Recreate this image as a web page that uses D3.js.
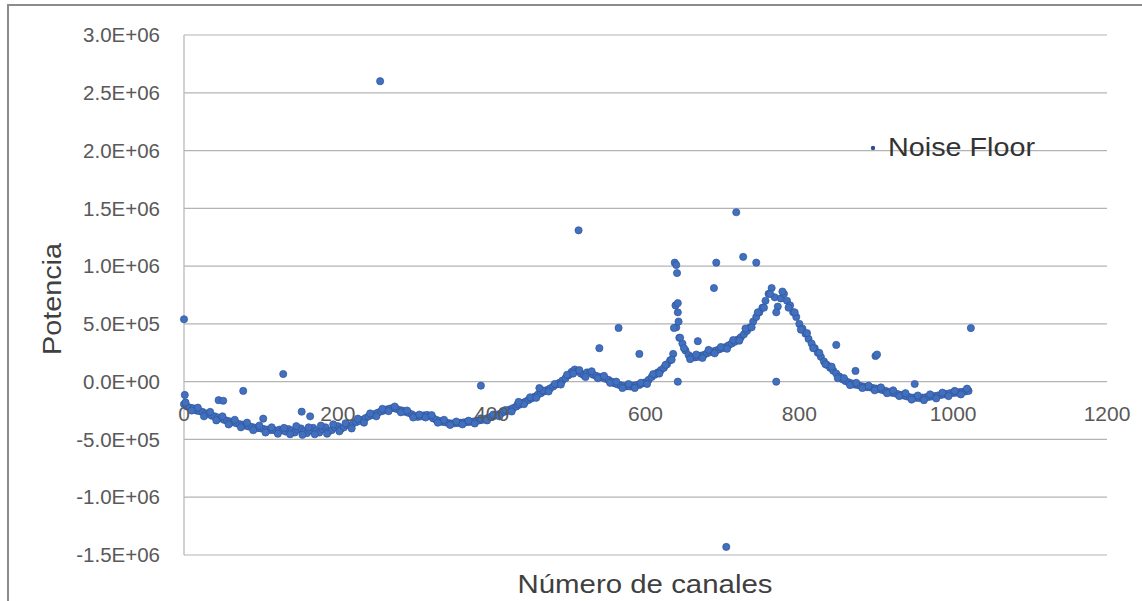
<!DOCTYPE html>
<html>
<head>
<meta charset="utf-8">
<script src="https://cdnjs.cloudflare.com/ajax/libs/d3/7.8.5/d3.min.js"></script>
<style>
  body { margin: 0; background: #fff; }
  text { font-family: "Liberation Sans", Arial, sans-serif; }
</style>
</head>
<body>
<svg width="1142" height="601"></svg>
<script>
// Power readings (x1000) every 4 channels, starting at channel 0
var bandPower = [
  -195,-215,-225,-230,-250,-255,-262,-275,-280,-295,-300,-310,-318,-330,-338,-345,
  -352,-360,-368,-372,-380,-388,-392,-398,-402,-405,-410,-415,-420,-418,-425,-415,
  -420,-432,-410,-425,-440,-415,-405,-430,-445,-420,-400,-425,-440,-410,-395,-430,
  -420,-395,-385,-410,-395,-375,-380,-360,-350,-340,-330,-315,-300,-290,-280,-268,
  -258,-250,-240,-232,-228,-235,-245,-250,-262,-270,-282,-295,-305,-300,-292,-288,
  -300,-318,-330,-340,-348,-352,-358,-362,-360,-358,-355,-352,-350,-348,-345,-340,
  -335,-330,-322,-312,-302,-295,-285,-275,-262,-252,-240,-228,-215,-200,-185,-172,
  -158,-145,-130,-112,-100,-85,-72,-58,-42,-25,-10,10,30,55,85,105,
  90,70,55,80,75,60,50,42,35,25,15,0,-15,-25,-32,-38,
  -40,-42,-35,-30,-28,-15,-5,15,40,60,80,100,120,150,185,240,
  470,380,330,270,230,215,210,215,225,232,245,255,262,270,280,290,
  300,315,330,345,365,385,410,440,470,520,560,600,640,700,760,810,
  730,650,720,760,700,660,600,560,500,460,415,370,330,290,250,215,
  175,145,120,95,70,45,20,5,-5,-15,-25,-30,-38,-42,-48,-50,
  -55,-60,-65,-72,-80,-88,-95,-100,-108,-115,-120,-128,-135,-138,-140,-142,
  -138,-135,-132,-128,-125,-120,-115,-110,-105,-100,-98,-95,-90,-88,-85,-80
];

// Extra readings (x1000) every 8 channels, starting at channel 2
var spreadPower = [
  -180,-250,-225,-300,-262,-335,-300,-370,-330,-395,-355,-420,-380,-440,-395,-450,
  -400,-455,-385,-460,-395,-455,-380,-450,-370,-430,-360,-405,-320,-355,-275,-300,
  -235,-255,-215,-265,-250,-310,-285,-310,-290,-355,-330,-375,-345,-370,-338,-362,
  -318,-335,-285,-300,-245,-258,-195,-195,-135,-140,-75,-85,-20,-25,60,70,
  100,40,90,30,50,-10,0,-55,-20,-55,-10,-20,65,70,145,190,
  600,290,195,235,205,275,245,300,285,360,355,460,470,600,640,760,
  600,780,640,600,450,420,290,250,150,130,30,30,-30,-10,-55,-35,
  -75,-50,-100,-75,-125,-100,-155,-120,-160,-110,-145,-95,-125,-80,-110,-60
];

// Isolated readings: channel and power (x1000)
var outlierChannels = [0, 1, 45, 51, 77, 103, 129, 153, 164, 255, 386, 435, 462, 513, 540, 565, 592,
  637, 638, 639, 640, 641, 642, 642, 643, 645, 668, 689, 692, 705, 718, 727, 744, 770, 848, 873, 899, 901, 950, 1023];
var outlierPower = [540, -115, -160, -165, -80, -320, 66, -260, -300, 2600, -35, -175, -55, 1310, 290, 465, 240,
  465, 1030, 660, 1010, 940, 680, 0, 520, 380, 350, 810, 1030, -1430, 1466, 1080, 1030, 0, 318, 93, 222, 235, -20, 464];

var xTicks = [0, 200, 400, 600, 800, 1000, 1200];
var yTicks = [-1.5e6, -1.0e6, -5e5, 0, 5e5, 1.0e6, 1.5e6, 2.0e6, 2.5e6, 3.0e6];
var seriesName = "Noise Floor";

// build points
var points = [];
bandPower.forEach(function(v, i) { points.push({ ch: i * 4, p: v * 1000 }); });
spreadPower.forEach(function(v, i) { points.push({ ch: 2 + i * 8, p: v * 1000 }); });
outlierChannels.forEach(function(c, i) { points.push({ ch: c, p: outlierPower[i] * 1000 }); });

var svg = d3.select("svg");

var x = d3.scaleLinear().domain([0, 1200]).range([184, 1107]);
var y = d3.scaleLinear().domain([-1.5e6, 3.0e6]).range([555, 35]);

function sci(v) {
  var parts = v.toExponential(1).split("e");
  var e = parts[1];
  return parts[0] + "E" + e[0] + e.slice(1).padStart(2, "0");
}

// outer frame
svg.append("path")
  .attr("d", "M8,601 L8,5 L1142,5")
  .attr("fill", "none")
  .attr("stroke", "#8c8c8c")
  .attr("stroke-width", 2);

// gridlines
svg.append("g")
  .selectAll("line")
  .data(yTicks)
  .enter().append("line")
    .attr("x1", x(0))
    .attr("x2", x(1200))
    .attr("y1", function(d) { return y(d); })
    .attr("y2", function(d) { return y(d); })
    .attr("stroke", "#b4b4b4")
    .attr("stroke-width", 1.2);

// y axis line
svg.append("line")
  .attr("x1", x(0)).attr("x2", x(0))
  .attr("y1", y(3.0e6)).attr("y2", y(-1.5e6))
  .attr("stroke", "#b4b4b4")
  .attr("stroke-width", 1.2);

// dots
svg.append("g")
  .selectAll("circle")
  .data(points)
  .enter().append("circle")
    .attr("cx", function(d) { return x(d.ch); })
    .attr("cy", function(d) { return y(d.p); })
    .attr("r", 3.6)
    .attr("fill", "#4170bf")
    .attr("stroke", "#2f559c")
    .attr("stroke-width", 0.7);

// y tick labels
svg.append("g")
  .selectAll("text")
  .data(yTicks)
  .enter().append("text")
    .attr("x", 160)
    .attr("y", function(d) { return y(d); })
    .attr("dy", "0.35em")
    .attr("text-anchor", "end")
    .attr("font-size", 20.5)
    .attr("fill", "#595959")
    .text(sci);

// x tick labels (axis crosses at zero)
svg.append("g")
  .selectAll("text")
  .data(xTicks)
  .enter().append("text")
    .attr("x", function(d) { return x(d); })
    .attr("y", y(0) + 39)
    .attr("text-anchor", "middle")
    .attr("font-size", 21)
    .attr("fill", "#595959")
    .text(function(d) { return d; });

// axis titles
svg.append("text")
  .attr("x", 645)
  .attr("y", 593)
  .attr("text-anchor", "middle")
  .attr("font-size", 25)
  .attr("fill", "#404040")
  .attr("textLength", 255)
  .attr("lengthAdjust", "spacingAndGlyphs")
  .text("Número de canales");

svg.append("text")
  .attr("transform", "translate(61,299) rotate(-90)")
  .attr("text-anchor", "middle")
  .attr("font-size", 25)
  .attr("fill", "#404040")
  .attr("textLength", 112)
  .attr("lengthAdjust", "spacingAndGlyphs")
  .text("Potencia");

// legend
var legend = svg.append("g").attr("transform", "translate(873,148)");
legend.append("circle")
  .attr("r", 2.2)
  .attr("fill", "#2c4f95");
legend.append("text")
  .attr("x", 15)
  .attr("y", 8)
  .attr("font-size", 25)
  .attr("fill", "#333")
  .attr("textLength", 147)
  .attr("lengthAdjust", "spacingAndGlyphs")
  .text(seriesName);
</script>
</body>
</html>
